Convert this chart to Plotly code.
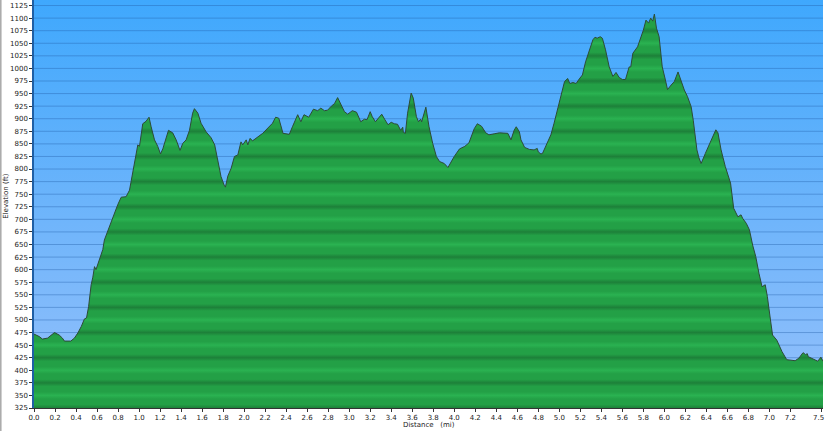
import plotly.graph_objects as go

# ---- data ----
distance_mi = [0.00, 0.05, 0.08, 0.13, 0.195, 0.24, 0.27, 0.29, 0.35, 0.385, 0.417, 0.45, 0.48, 0.50, 0.52, 0.544,
               0.56, 0.576, 0.59, 0.64, 0.655, 0.67, 0.718, 0.766, 0.797, 0.83, 0.877, 0.909, 0.94, 0.972, 0.988, 1.004,
               1.035, 1.067, 1.095, 1.115, 1.147, 1.178, 1.204, 1.226, 1.258, 1.28, 1.32, 1.353, 1.39, 1.416, 1.448, 1.48,
               1.51, 1.527, 1.56, 1.59, 1.638, 1.686, 1.72, 1.75, 1.78, 1.81, 1.822, 1.845, 1.876, 1.908, 1.94, 1.97,
               1.987, 2.02, 2.035, 2.057, 2.08, 2.177, 2.27, 2.30, 2.33, 2.37, 2.40, 2.43, 2.46, 2.51, 2.54, 2.57,
               2.615, 2.66, 2.70, 2.73, 2.765, 2.795, 2.83, 2.86, 2.89, 2.91, 2.955, 2.986, 3.03, 3.07, 3.11, 3.145,
               3.17, 3.20, 3.22, 3.25, 3.29, 3.31, 3.34, 3.37, 3.40, 3.43, 3.46, 3.49, 3.51, 3.515, 3.535, 3.556,
               3.59, 3.61, 3.64, 3.66, 3.68, 3.69, 3.73, 3.76, 3.795, 3.83, 3.86, 3.905, 3.94, 4.00, 4.05, 4.10,
               4.14, 4.19, 4.22, 4.26, 4.30, 4.33, 4.38, 4.43, 4.51, 4.54, 4.57, 4.59, 4.62, 4.635, 4.67, 4.715,
               4.76, 4.79, 4.80, 4.825, 4.84, 4.875, 4.92, 4.95, 4.98, 5.02, 5.05, 5.08, 5.10, 5.13, 5.16, 5.19,
               5.22, 5.25, 5.285, 5.32, 5.34, 5.36, 5.39, 5.41, 5.44, 5.475, 5.51, 5.54, 5.57, 5.60, 5.63, 5.665,
               5.68, 5.70, 5.745, 5.78, 5.80, 5.825, 5.85, 5.87, 5.89, 5.905, 5.925, 5.95, 5.98, 6.01, 6.03, 6.065,
               6.095, 6.13, 6.16, 6.19, 6.22, 6.255, 6.275, 6.30, 6.31, 6.33, 6.35, 6.39, 6.42, 6.45, 6.49, 6.51,
               6.54, 6.58, 6.63, 6.66, 6.70, 6.73, 6.745, 6.78, 6.81, 6.84, 6.87, 6.90, 6.93, 6.96, 6.98, 7.01,
               7.03, 7.07, 7.12, 7.165, 7.245, 7.28, 7.32, 7.345, 7.36, 7.37, 7.43, 7.46, 7.49, 7.51]

elevation_ft = [472, 467, 462, 464, 475, 470, 464, 458, 458, 464, 474, 487, 502, 504, 527, 570,
                585, 606, 600, 633, 640, 659, 686, 715, 729, 744, 745, 758, 795, 831, 848, 845,
                890, 895, 903, 884, 858, 845, 830, 840, 864, 877, 872, 858, 837, 851, 858, 877,
                911, 920, 911, 891, 874, 862, 848, 818, 785, 768, 764, 786, 801, 825, 828, 854,
                848, 858, 848, 861, 856, 871, 891, 903, 901, 871, 870, 869, 884, 908, 894, 908,
                903, 919, 916, 921, 916, 917, 925, 930, 942, 934, 914, 909, 916, 913, 894, 899,
                898, 914, 904, 894, 904, 909, 898, 888, 893, 890, 889, 877, 883, 873, 871, 911,
                951, 941, 904, 894, 899, 894, 923, 884, 851, 825, 815, 811, 803, 825, 840, 845,
                852, 880, 890, 885, 872, 868, 870, 872, 871, 858, 877, 884, 874, 858, 843, 839,
                838, 841, 834, 830, 831, 848, 868, 891, 917, 951, 974, 980, 970, 972, 970, 979,
                987, 1013, 1037, 1057, 1062, 1060, 1063, 1060, 1037, 1003, 984, 992, 982, 978, 978, 1003,
                1003, 1030, 1043, 1063, 1076, 1096, 1090, 1100, 1094, 1108, 1080, 1063, 1003, 977, 958, 967,
                974, 993, 974, 957, 944, 924, 897, 858, 838, 822, 811, 831, 845, 862, 878, 872,
                838, 805, 772, 722, 705, 709, 702, 692, 679, 649, 626, 593, 566, 570, 547, 500,
                470, 460, 437, 421, 419, 424, 435, 431, 433, 427, 421, 418, 426, 418]

assert len(distance_mi) == len(elevation_ft)

x_ticks = [round(0.2 * i, 1) for i in range(37)] + [7.5]
x_labels = [f"{v:.1f}" for v in x_ticks]
last_x_label = x_labels[-1]
x_labels[-1] = ""          # drawn as a right-aligned annotation so it stays inside the page
y_ticks = list(range(325, 1126, 25))

X_MAX = 7.51
Y_MIN, Y_MAX = 325, 1136

FONT = "DejaVu Sans"

fig = go.Figure()

# blue gradient background of the plotting area
fig.add_trace(go.Scatter(
    x=[0, X_MAX, X_MAX, 0, 0], y=[Y_MIN, Y_MIN, Y_MAX, Y_MAX, Y_MIN],
    mode="none", fill="toself",
    fillgradient=dict(type="vertical", start=Y_MIN, stop=Y_MAX,
                      colorscale=[[0, "#94c0fb"], [0.5, "#6cb4fb"], [1, "#3fa8fd"]]),
    hoverinfo="skip", showlegend=False))

# horizontal grid lines (drawn above the background, below the profile)
gx, gy = [], []
for v in y_ticks[1:]:
    gx += [0, X_MAX, None]
    gy += [v, v, None]
fig.add_trace(go.Scatter(x=gx, y=gy, mode="lines",
                         line=dict(color="rgba(35,95,170,0.40)", width=1),
                         hoverinfo="skip", showlegend=False))

# striped green fill for the elevation profile
G_LO, G_HI = 300, 1150
DARK, MID, LIGHT = "#1d8039", "#23a046", "#2ab251"


def t_of(val):
    return (val - G_LO) / (G_HI - G_LO)


stops = []
v = G_LO
while v < G_HI:
    col = DARK if (v // 25) % 2 == 1 else LIGHT
    stops.append([t_of(v), col])
    stops.append([t_of(v + 7), MID])
    stops.append([t_of(v + 18), MID])
    v += 25
stops.append([1.0, DARK if (G_HI // 25) % 2 == 1 else LIGHT])

fig.add_trace(go.Scatter(
    x=distance_mi, y=elevation_ft, mode="lines", fill="tozeroy",
    line=dict(color="rgb(45,75,55)", width=1),
    fillgradient=dict(type="vertical", start=G_LO, stop=G_HI, colorscale=stops),
    hoverinfo="skip", showlegend=False))

fig.update_layout(
    width=825, height=431,
    margin=dict(l=34, r=2, t=0, b=23, autoexpand=False),
    paper_bgcolor="white", plot_bgcolor="#6ab4fb",
    font=dict(family=FONT, size=7, color="#222"),
    xaxis=dict(range=[0, X_MAX], tickvals=x_ticks, ticktext=x_labels, automargin=False,
               ticklabeloverflow="allow",
               ticks="outside", ticklen=3, tickcolor="#333", showline=True,
               linecolor="#333", linewidth=1, showgrid=False, zeroline=False,
               tickfont=dict(family=FONT, size=7, color="#222")),
    yaxis=dict(range=[Y_MIN, Y_MAX], tickvals=y_ticks, automargin=False,
               ticklabeloverflow="allow",
               ticks="outside", ticklen=3, tickcolor="#333", showline=True,
               linecolor="#1f5fa5", linewidth=1.5, showgrid=False, zeroline=False,
               tickfont=dict(family=FONT, size=7, color="#222")),
    annotations=[
        dict(text="Elevation (ft)", textangle=-90, xref="paper", yref="paper",
             x=(6 - 34) / 789, y=1 - 196 / 408.5, xanchor="center", yanchor="middle",
             showarrow=False, font=dict(family=FONT, size=7, color="#222")),
        dict(text="Distance&nbsp;&nbsp;&nbsp;(mi)", xref="paper", yref="paper",
             x=(429 - 34) / 789, y=(408.5 - 426) / 408.5, xanchor="center", yanchor="middle",
             showarrow=False, font=dict(family=FONT, size=7, color="#222")),
        dict(text=last_x_label, xref="paper", yref="paper",
             x=(824.5 - 34) / 789, y=(408.5 - 419) / 408.5, xanchor="right", yanchor="middle",
             showarrow=False, borderpad=0, font=dict(family=FONT, size=7, color="#222")),
    ],
    shapes=[dict(type="line", xref="paper", yref="paper",
                 x0=(0.8 - 34) / 789, x1=(0.8 - 34) / 789, y0=-23 / 408.5, y1=1,
                 line=dict(color="#a8a8a8", width=1.5))],
)

fig.write_html("out.html", config={"displayModeBar": False},
               post_script="document.body.style.margin='0';document.body.style.overflow='hidden';")
